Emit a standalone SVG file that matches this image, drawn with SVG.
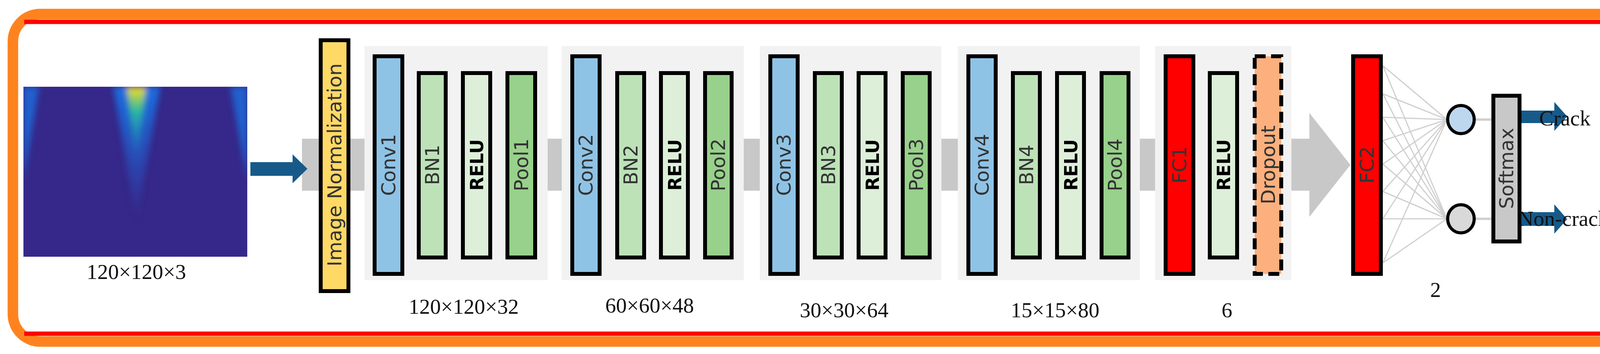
<svg xmlns="http://www.w3.org/2000/svg" width="4364" height="906" viewBox="0 0 4364 906">
<style>
.bar{stroke:#000;stroke-width:10}
.conv{fill:#8fc3e6}.bn{fill:#bde2b8}.relu{fill:#ddefd9}.pool{fill:#98d18b}.fc{fill:#ff0000}
.panel{fill:#f2f2f2}
.t{font-family:"DejaVu Sans",sans-serif;font-size:50px;text-anchor:middle;fill:#333}
.tb{font-family:"DejaVu Sans",sans-serif;font-size:46px;font-weight:bold;text-anchor:middle;fill:#000}
.lab{font-family:"Liberation Serif",serif;font-size:55px;text-anchor:middle;fill:#111}
.nn{stroke:#d0d0d0;stroke-width:3}
</style>
<defs>
<clipPath id="ic"><rect x="60" y="222" width="573" height="435"/></clipPath>
<filter id="bl"><feGaussianBlur stdDeviation="8"/></filter>
<linearGradient id="cone" x1="0" y1="0" x2="0" y2="1"><stop offset="0" stop-color="#1a6fe0"/><stop offset="1" stop-color="#36288a"/></linearGradient>
<linearGradient id="core" x1="0" y1="0" x2="0" y2="1"><stop offset="0" stop-color="#f8e020"/><stop offset="0.3" stop-color="#2ab8a0"/><stop offset="1" stop-color="#1a6fe0" stop-opacity="0"/></linearGradient>
</defs>
<rect width="4364" height="906" fill="#fff"/>
<g id="frame">
<rect x="33" y="36" width="4292" height="838" rx="70" fill="none" stroke="#fe831f" stroke-width="27"/>
<path d="M62 56 H4326 V854 H62" fill="none" stroke="#ff0000" stroke-width="11"/>
</g>
<g id="input">
<rect x="60" y="222" width="573" height="435" fill="#36288a"/>
<g clip-path="url(#ic)" filter="url(#bl)">
<polygon points="290,222 410,222 349,560" fill="url(#cone)"/>
<polygon points="325,222 373,222 349,430" fill="url(#core)"/>
<polygon points="60,222 100,222 60,460" fill="#1a6fe0" opacity="0.8"/>
<polygon points="633,222 590,222 633,460" fill="#1a6fe0" opacity="0.8"/>
</g>
<text class="lab" x="349" y="714">120×120×3</text>
</g>
<g id="connectors">
<polygon points="773,355 3352,355 3352,289 3457,422 3352,555 3352,488 773,488" fill="#c8c8c8"/>
<polygon points="641,415 749,415 749,395 787,432 749,469 749,450 641,450" fill="#175a8a"/>
<g class="nn">
<line x1="3540" y1="168" x2="3704" y2="306"/><line x1="3540" y1="240" x2="3704" y2="306"/><line x1="3540" y1="300" x2="3704" y2="306"/><line x1="3540" y1="360" x2="3704" y2="306"/><line x1="3540" y1="420" x2="3704" y2="306"/><line x1="3540" y1="490" x2="3704" y2="306"/><line x1="3540" y1="560" x2="3704" y2="306"/><line x1="3540" y1="673" x2="3704" y2="306"/>
<line x1="3540" y1="168" x2="3704" y2="560"/><line x1="3540" y1="240" x2="3704" y2="560"/><line x1="3540" y1="300" x2="3704" y2="560"/><line x1="3540" y1="360" x2="3704" y2="560"/><line x1="3540" y1="420" x2="3704" y2="560"/><line x1="3540" y1="490" x2="3704" y2="560"/><line x1="3540" y1="560" x2="3704" y2="560"/><line x1="3540" y1="673" x2="3704" y2="560"/>
<line x1="3777" y1="306" x2="3818" y2="306" stroke-width="6"/><line x1="3777" y1="560" x2="3818" y2="560" stroke-width="6"/>
</g>
<polygon points="3878,283 3979,283 3979,261 4012,298 3979,335 3979,315 3878,315" fill="#175a8a"/>
<polygon points="3878,543 3979,543 3979,523 4012,561 3979,598 3979,578 3878,578" fill="#175a8a"/>
</g>
<g id="norm"><rect class="bar" x="821" y="103" width="71" height="642" fill="#ffd966"/><text class="t" transform="translate(874,422) rotate(-90)" font-size="52" fill="#222">Image Normalization</text></g>
<g id="group1">
<rect class="panel" x="933" y="118" width="469" height="599"/>
<rect class="bar conv" x="959" y="144" width="71" height="557"/><text class="t" transform="translate(1012,422) rotate(-90)">Conv1</text>
<rect class="bar bn" x="1072" y="187" width="69" height="472"/><text class="t" transform="translate(1124,422) rotate(-90)">BN1</text>
<rect class="bar relu" x="1185" y="187" width="70" height="472"/><text class="tb" transform="translate(1237,422) rotate(-90)">RELU</text>
<rect class="bar pool" x="1299" y="187" width="71" height="472"/><text class="t" transform="translate(1352,422) rotate(-90)">Pool1</text>
<text class="lab" x="1187" y="803">120×120×32</text>
</g>
<g id="group2">
<rect class="panel" x="1438" y="118" width="466" height="599"/>
<rect class="bar conv" x="1465" y="144" width="70" height="557"/><text class="t" transform="translate(1517,422) rotate(-90)">Conv2</text>
<rect class="bar bn" x="1580" y="187" width="69" height="472"/><text class="t" transform="translate(1632,422) rotate(-90)">BN2</text>
<rect class="bar relu" x="1692" y="187" width="69" height="472"/><text class="tb" transform="translate(1744,422) rotate(-90)">RELU</text>
<rect class="bar pool" x="1805" y="187" width="68" height="472"/><text class="t" transform="translate(1856,422) rotate(-90)">Pool2</text>
<text class="lab" x="1663" y="800">60×60×48</text>
</g>
<g id="group3">
<rect class="panel" x="1945" y="118" width="465" height="599"/>
<rect class="bar conv" x="1972" y="144" width="70" height="557"/><text class="t" transform="translate(2024,422) rotate(-90)">Conv3</text>
<rect class="bar bn" x="2086" y="187" width="69" height="472"/><text class="t" transform="translate(2138,422) rotate(-90)">BN3</text>
<rect class="bar relu" x="2198" y="187" width="69" height="472"/><text class="tb" transform="translate(2250,422) rotate(-90)">RELU</text>
<rect class="bar pool" x="2311" y="187" width="69" height="472"/><text class="t" transform="translate(2363,422) rotate(-90)">Pool3</text>
<text class="lab" x="2161" y="812">30×30×64</text>
</g>
<g id="group4">
<rect class="panel" x="2452" y="118" width="466" height="599"/>
<rect class="bar conv" x="2479" y="144" width="70" height="557"/><text class="t" transform="translate(2531,422) rotate(-90)">Conv4</text>
<rect class="bar bn" x="2593" y="187" width="69" height="472"/><text class="t" transform="translate(2645,422) rotate(-90)">BN4</text>
<rect class="bar relu" x="2706" y="187" width="69" height="472"/><text class="tb" transform="translate(2758,422) rotate(-90)">RELU</text>
<rect class="bar pool" x="2820" y="187" width="69" height="472"/><text class="t" transform="translate(2872,422) rotate(-90)">Pool4</text>
<text class="lab" x="2701" y="812">15×15×80</text>
</g>
<g id="group5">
<rect class="panel" x="2957" y="118" width="349" height="599"/>
<rect class="bar fc" x="2984" y="144" width="71" height="557"/><text class="t" transform="translate(3037,422) rotate(-90)" fill="#3a0000">FC1</text>
<rect class="bar relu" x="3097" y="187" width="70" height="472"/><text class="tb" transform="translate(3149,422) rotate(-90)">RELU</text>
<rect x="3212" y="144" width="68" height="557" fill="#fbb07e" stroke="#000" stroke-width="10" stroke-dasharray="28,14"/><text class="t" transform="translate(3264,422) rotate(-90)" fill="#555">Dropout</text>
<text class="lab" x="3141" y="812">6</text>
</g>
<g id="fc2"><rect class="bar fc" x="3464" y="144" width="71" height="557"/><text class="t" transform="translate(3517,422) rotate(-90)" fill="#3a0000">FC2</text><text class="lab" x="3675" y="760">2</text></g>
<g id="out1"><ellipse cx="3740" cy="306" rx="34" ry="36" fill="#bdd7ee" stroke="#000" stroke-width="8"/></g>
<g id="out2"><ellipse cx="3740" cy="560" rx="34" ry="36" fill="#d9d9d9" stroke="#000" stroke-width="8"/></g>
<g id="softmax"><rect class="bar" x="3823" y="245" width="67" height="373" fill="#c8c8c8"/><text class="t" transform="translate(3874,431) rotate(-90)">Softmax</text></g>
<g id="labels">
<text class="lab" x="4006" y="321" font-size="72" text-anchor="start">Crack</text>
<text class="lab" x="4002" y="578" font-size="72" text-anchor="start">Non-crack</text>
</g>
</svg>
